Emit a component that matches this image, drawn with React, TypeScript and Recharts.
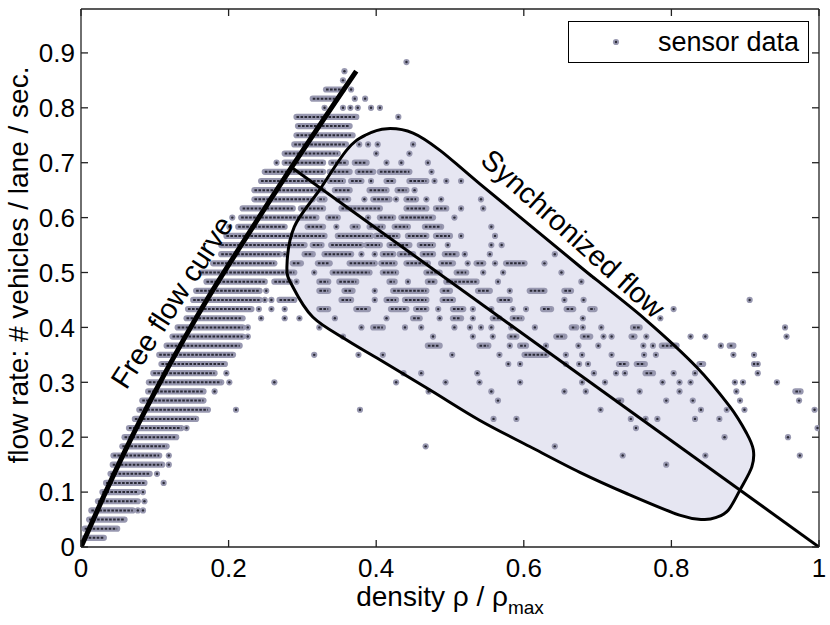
import React from "react";
import { ScatterChart, Scatter, XAxis, YAxis, Legend } from "recharts";

type Run = number | [number, number];

// sensor readings, one row per flow level (vehicles counted per minute).
// a pair is a run of neighbouring density readings, a number is a single reading
const sensorRows: Record<number, Run[]> = {
  1: [[0.005, 0.031]],
  2: [[0.005, 0.049]],
  3: [[0.011, 0.059]],
  4: [[0.014, 0.07], 0.077, 0.084],
  5: [[0.023, 0.077], 0.086],
  6: [[0.029, 0.077], 0.084],
  7: [[0.034, 0.086], 0.112],
  8: [[0.04, 0.093], 0.103],
  9: [[0.043, 0.11], 0.119, 0.793],
  10: [[0.044, 0.106], 0.119, 0.734, 0.846, 0.974],
  11: [[0.056, 0.116], 0.467, 0.642],
  12: [[0.059, 0.129], 0.872, 0.958],
  13: [[0.065, 0.136], 0.143, 0.752, 0.998],
  14: [[0.073, 0.156], 0.559, 0.59, 0.745, 0.765, 0.781, 0.832, 0.865],
  15: [[0.079, 0.172], 0.21, 0.378, 0.704, 0.84, 0.875, 0.899, 0.994],
  16: [[0.083, 0.166], 0.565, [0.728, 0.732], 0.793, 0.829, 0.893, 0.973],
  17: [[0.091, 0.166], 0.181, 0.471, 0.556, 0.655, 0.684, 0.757, 0.811, 0.888, [0.968, 0.975]],
  18: [[0.092, 0.19], 0.201, 0.262, 0.427, 0.494, 0.54, 0.595, 0.679, 0.71, 0.788, 0.811, 0.826, 0.886, 0.897, 0.943],
  19: [[0.098, 0.181], 0.197, 0.437, 0.461, 0.537, 0.695, 0.725, 0.737, [0.765, 0.775], 0.803, 0.832, 0.917],
  20: [[0.109, 0.195], 0.579, 0.595, 0.657, 0.675, 0.687, [0.729, 0.739], [0.753, 0.764], [0.838, 0.843], 0.912, 0.917],
  21: [[0.106, 0.206], 0.316, 0.376, 0.409, 0.503, 0.567, [0.601, 0.631], 0.657, 0.679, 0.719, 0.763, 0.779, 0.884, 0.912],
  22: [[0.116, 0.215], [0.47, 0.486], [0.54, 0.552], 0.581, [0.595, 0.603], 0.63, 0.674, 0.701, 0.762, 0.775, [0.787, 0.807], 0.867, [0.879, 0.884]],
  23: [[0.124, 0.219], 0.226, 0.355, 0.477, 0.531, 0.558, [0.581, 0.59], [0.644, 0.655], [0.68, 0.69], 0.708, 0.719, [0.746, 0.75], 0.766, 0.826, 0.846, 0.956],
  24: [[0.131, 0.219], 0.226, 0.323, 0.38, [0.396, 0.409], 0.439, 0.461, 0.506, 0.527, 0.542, 0.556, 0.583, 0.615, [0.665, 0.671], 0.68, 0.705, [0.748, 0.757], 0.954],
  25: [[0.143, 0.219], 0.244, 0.276, 0.296, 0.344, 0.414, [0.45, 0.459], 0.486, [0.504, 0.515], 0.531, [0.558, 0.567], [0.585, 0.597], 0.68, 0.785],
  26: [[0.145, 0.231], 0.241, 0.258, 0.276, [0.323, 0.335], [0.373, 0.389], [0.42, 0.441], [0.454, 0.468], 0.484, [0.504, 0.518], 0.531, 0.556, 0.585, 0.603, [0.626, 0.637], [0.658, 0.667], [0.69, 0.696], 0.803],
  27: [[0.152, 0.242], 0.249, 0.258, [0.269, 0.289], [0.353, 0.366], 0.398, [0.414, 0.427], [0.439, 0.468], [0.49, 0.504], [0.567, 0.581], 0.655, 0.681, 0.906],
  28: [[0.156, 0.242], 0.251, [0.323, 0.335], [0.357, 0.368], 0.398, [0.423, 0.468], [0.49, 0.5], [0.538, 0.554], 0.581, [0.608, 0.628], [0.655, 0.664]],
  29: [[0.17, 0.249], [0.262, 0.283], 0.292, [0.323, 0.335], [0.35, 0.373], [0.418, 0.425], 0.443, [0.47, 0.479], [0.495, 0.536], 0.565, 0.678],
  30: [[0.163, 0.289], 0.316, [0.341, 0.391], [0.409, 0.427], [0.468, 0.486], [0.509, 0.522], 0.545, 0.572, 0.651],
  31: [[0.179, 0.262], [0.287, 0.298], [0.321, 0.337], [0.364, 0.398], [0.407, 0.425], [0.441, 0.47], [0.488, 0.504], 0.524, [0.536, 0.545], 0.561, [0.576, 0.601], 0.628],
  32: [[0.19, 0.269], 0.276, [0.303, 0.314], [0.33, 0.366], 0.38, 0.398, [0.409, 0.423], [0.432, 0.45], [0.463, 0.477], [0.493, 0.509], 0.52, 0.554, 0.642],
  33: [[0.19, 0.303], [0.314, 0.326], [0.339, 0.38], [0.387, 0.405], [0.418, 0.445], [0.459, 0.477], 0.497, 0.556, 0.57],
  34: [[0.197, 0.33], [0.348, 0.393], [0.4, 0.429], [0.443, 0.468], [0.481, 0.5], 0.515, 0.561],
  35: [0.201, [0.213, 0.276], [0.307, 0.328], 0.346, [0.368, 0.375], [0.391, 0.409], [0.425, 0.443], [0.466, 0.488], 0.556],
  36: [0.205, [0.217, 0.319], [0.335, 0.348], 0.389, [0.405, 0.423], [0.434, 0.477], 0.506],
  37: [[0.219, 0.287], [0.298, 0.328], [0.353, 0.405], [0.441, 0.468], [0.481, 0.495], 0.515, 0.545],
  38: [[0.235, 0.314], [0.323, 0.33], [0.348, 0.362], 0.384, [0.396, 0.418], 0.427, [0.441, 0.454], 0.468, 0.488, 0.542],
  39: [[0.235, 0.328], [0.344, 0.364], [0.391, 0.414], [0.429, 0.441], 0.452],
  40: [[0.244, 0.328], [0.337, 0.355], [0.366, 0.38], 0.393, [0.414, 0.423], [0.445, 0.468], 0.479, 0.495, 0.515],
  41: [[0.249, 0.328], [0.337, 0.364], [0.375, 0.396], [0.405, 0.445], 0.475],
  42: [0.265, [0.276, 0.328], [0.339, 0.359], [0.371, 0.387], 0.414, 0.434, 0.47],
  43: [[0.276, 0.348], 0.4, 0.445],
  44: [[0.289, 0.359], 0.377, 0.389, 0.402, 0.45],
  45: [[0.292, 0.368]],
  46: [[0.294, 0.364]],
  47: [[0.292, 0.373], 0.43],
  48: [0.33, 0.355, 0.365, 0.375, 0.393, 0.405],
  49: [[0.314, 0.344], 0.371, 0.385],
  50: [[0.332, 0.355], 0.366],
  51: [0.355],
  52: [0.357],
  53: [0.441],
};

const freeFlowCurve = [
  { x: 0, y: 0 },
  { x: 0.03, y: 0.09 },
  { x: 0.06, y: 0.176 },
  { x: 0.1, y: 0.282 },
  { x: 0.14, y: 0.38 },
  { x: 0.17, y: 0.449 },
  { x: 0.22, y: 0.556 },
  { x: 0.287, y: 0.695 },
  { x: 0.373, y: 0.867 },
];

const syncLine = [
  { x: 0.287, y: 0.69 },
  { x: 1, y: 0 },
];

// outline of the synchronized flow region, clockwise from the top
const syncRegion = [
  { x: 0.415, y: 0.762 }, { x: 0.45, y: 0.754 }, { x: 0.486, y: 0.723 }, { x: 0.54, y: 0.662 },
  { x: 0.676, y: 0.511 }, { x: 0.699, y: 0.486 }, { x: 0.766, y: 0.413 }, { x: 0.834, y: 0.328 },
  { x: 0.879, y: 0.256 }, { x: 0.902, y: 0.207 }, { x: 0.911, y: 0.177 }, { x: 0.909, y: 0.146 },
  { x: 0.893, y: 0.104 }, { x: 0.877, y: 0.067 }, { x: 0.861, y: 0.054 }, { x: 0.843, y: 0.05 },
  { x: 0.811, y: 0.058 }, { x: 0.74, y: 0.097 }, { x: 0.676, y: 0.136 },
  { x: 0.608, y: 0.183 }, { x: 0.54, y: 0.231 }, { x: 0.473, y: 0.286 }, { x: 0.405, y: 0.341 },
  { x: 0.36, y: 0.377 }, { x: 0.314, y: 0.419 }, { x: 0.287, y: 0.474 }, { x: 0.279, y: 0.51 },
  { x: 0.289, y: 0.583 }, { x: 0.323, y: 0.65 }, { x: 0.36, y: 0.723 }, { x: 0.385, y: 0.75 },
];

const annotations = [
  { x: 0.123, y: 0.446, text: "Free flow curve" },
  { x: 0.667, y: 0.571, text: "Synchronized flow" },
];

const xTicks = [0, 0.2, 0.4, 0.6, 0.8, 1];
const yTicks = [0, 0.1, 0.2, 0.3, 0.4, 0.5, 0.6, 0.7, 0.8, 0.9];

const FONT = "'Liberation Sans', Arial, Helvetica, sans-serif";
const FRAME = "#222";
const HALO = "#9898b0";
const CORE = "#2a2a36";
const REGION_FILL = "#e6e6f2";
const labelAngle: Record<string, number> = { "Free flow curve": -57, "Synchronized flow": 42 };
const labelSize: Record<string, number> = { "Free flow curve": 29, "Synchronized flow": 29 };

const sensorPoints = Object.entries(sensorRows).flatMap(([count, runs]) => {
  const flow = Number(count) / 60;
  return runs.flatMap((r) => {
    const [a, b] = Array.isArray(r) ? r : [r, r];
    return [
      { x: a, y: flow },
      { x: b, y: flow },
    ];
  });
});

const noShape = () => <g />;

const Marker = ({ cx, cy }: { cx: number; cy: number }) => (
  <g>
    <circle cx={cx} cy={cy} r={3.1} fill={HALO} />
    <circle cx={cx} cy={cy} r={1.2} fill={CORE} />
  </g>
);

// points arrive as consecutive start/end pairs of one run
function SensorMarks(props: any) {
  const pts = props.points ?? [];
  const halos: React.ReactNode[] = [];
  const cores: React.ReactNode[] = [];
  for (let i = 0; i + 1 < pts.length; i += 2) {
    const a = pts[i];
    const b = pts[i + 1];
    if (Math.abs(b.x - a.x) < 0.5) {
      halos.push(<circle key={i} cx={a.x} cy={a.y} r={3.1} fill={HALO} />);
      cores.push(<circle key={i} cx={a.x} cy={a.y} r={1.2} fill={CORE} />);
    } else {
      halos.push(
        <line key={i} x1={a.x} y1={a.y} x2={b.x} y2={b.y} stroke={HALO} strokeWidth={6.2} strokeLinecap="round" />
      );
      cores.push(
        <line
          key={i}
          x1={a.x}
          y1={a.y}
          x2={b.x}
          y2={b.y}
          stroke={CORE}
          strokeWidth={2}
          strokeDasharray="2.6 1.4"
        />
      );
    }
  }
  return (
    <g>
      {halos}
      {cores}
    </g>
  );
}

function closedSmoothPath(pts: { x: number; y: number }[]) {
  const n = pts.length;
  if (!n) return "";
  let d = `M${pts[0].x},${pts[0].y}`;
  for (let i = 0; i < n; i++) {
    const p0 = pts[(i - 1 + n) % n];
    const p1 = pts[i];
    const p2 = pts[(i + 1) % n];
    const p3 = pts[(i + 2) % n];
    const c1x = p1.x + (p2.x - p0.x) / 6;
    const c1y = p1.y + (p2.y - p0.y) / 6;
    const c2x = p2.x - (p3.x - p1.x) / 6;
    const c2y = p2.y - (p3.y - p1.y) / 6;
    d += ` C${c1x},${c1y} ${c2x},${c2y} ${p2.x},${p2.y}`;
  }
  return d + "Z";
}

const RegionFill = (props: any) => <path d={closedSmoothPath(props.points ?? [])} fill={REGION_FILL} stroke="none" />;
const RegionEdge = (props: any) => (
  <path d={closedSmoothPath(props.points ?? [])} fill="none" stroke="#000" strokeWidth={3} strokeLinejoin="round" />
);

const AnnotationText = (p: any) => {
  const text = p.payload?.text ?? "";
  return (
    <text
      x={p.cx}
      y={p.cy}
      dy="0.35em"
      textAnchor="middle"
      transform={`rotate(${labelAngle[text] ?? 0} ${p.cx} ${p.cy})`}
      fontFamily={FONT}
      fontSize={labelSize[text] ?? 29}
      fill="#000"
    >
      {text}
    </text>
  );
};

const fmt = (v: number) => String(v);

const BottomTick = ({ x, y, payload }: any) => (
  <g>
    <line x1={x} y1={y - 10} x2={x} y2={y - 17} stroke={FRAME} strokeWidth={1.3} />
    <text x={x} y={y} dy="0.78em" textAnchor="middle" fontFamily={FONT} fontSize={26} fill="#000">
      {fmt(payload.value)}
    </text>
  </g>
);

const LeftTick = ({ x, y, payload }: any) => (
  <g>
    <line x1={x + 6} y1={y} x2={x + 13} y2={y} stroke={FRAME} strokeWidth={1.3} />
    <text x={x} y={y} dy="0.36em" textAnchor="end" fontFamily={FONT} fontSize={26} fill="#000">
      {fmt(payload.value)}
    </text>
  </g>
);

const TopTick = ({ x, y }: any) => <line x1={x} y1={y} x2={x} y2={y + 7} stroke={FRAME} strokeWidth={1.3} />;
const RightTick = ({ x, y }: any) => <line x1={x} y1={y} x2={x - 7} y2={y} stroke={FRAME} strokeWidth={1.3} />;

const XTitle = (p: any) => {
  const vb = p.viewBox ?? { x: 81, y: 547, width: 738, height: 78 };
  return (
    <text x={vb.x + vb.width / 2} y={vb.y + 59} textAnchor="middle" fontFamily={FONT} fontSize={28} fill="#000">
      density ρ / ρ
      <tspan fontSize={19} dy={8}>
        max
      </tspan>
    </text>
  );
};

const YTitle = () => (
  <text x={28} y={265} textAnchor="middle" transform="rotate(-90 28 265)" fontFamily={FONT} fontSize={28} fill="#000">
    flow rate: # vehicles / lane / sec.
  </text>
);

const LegendBox = () => (
  <div
    style={{
      boxSizing: "border-box",
      width: 241,
      height: 42,
      border: "1px solid #000",
      background: "#fff",
      position: "relative",
      fontFamily: FONT,
      fontSize: 27,
      color: "#000",
    }}
  >
    <svg width={12} height={12} style={{ position: "absolute", left: 41, top: 14 }}>
      <Marker cx={6} cy={6} />
    </svg>
    <span style={{ position: "absolute", left: 89, top: 3, lineHeight: "34px", whiteSpace: "nowrap" }}>sensor data</span>
  </div>
);

export default function App() {
  const frame = { stroke: FRAME, strokeWidth: 1.3 };
  return (
    <div style={{ position: "absolute", left: 0, top: 0, width: 830, height: 625, background: "#fff" }}>
      <ScatterChart width={830} height={625} margin={{ top: 8, right: 10, bottom: 0, left: 0 }}>
        <XAxis
          type="number"
          dataKey="x"
          domain={[0, 1]}
          ticks={xTicks}
          interval={0}
          height={78}
          tickSize={0}
          tickMargin={10}
          tickLine={false}
          axisLine={frame}
          tick={BottomTick}
          label={XTitle}
          allowDataOverflow
        />
        <XAxis
          xAxisId="top"
          orientation="top"
          type="number"
          dataKey="x"
          domain={[0, 1]}
          ticks={xTicks}
          interval={0}
          height={1}
          tickSize={0}
          tickMargin={0}
          tickLine={false}
          axisLine={frame}
          tick={TopTick}
          allowDataOverflow
        />
        <YAxis
          type="number"
          dataKey="y"
          domain={[0, 0.98]}
          ticks={yTicks}
          interval={0}
          width={81}
          tickSize={0}
          tickMargin={6}
          tickLine={false}
          axisLine={frame}
          tick={LeftTick}
          label={YTitle}
          allowDataOverflow
        />
        <YAxis
          yAxisId="right"
          orientation="right"
          type="number"
          dataKey="y"
          domain={[0, 0.98]}
          ticks={yTicks}
          interval={0}
          width={1}
          tickSize={0}
          tickMargin={0}
          tickLine={false}
          axisLine={frame}
          tick={RightTick}
          allowDataOverflow
        />
        <Legend
          layout="vertical"
          align="center"
          verticalAlign="middle"
          wrapperStyle={{ left: 568, top: 21, width: 241, height: 42 }}
          content={LegendBox}
        />
        <Scatter data={syncRegion} line={RegionFill} shape={noShape} legendType="none" isAnimationActive={false} />
        <Scatter name="sensor data" data={sensorPoints} line={SensorMarks} shape={noShape} isAnimationActive={false} />
        <Scatter data={syncRegion} line={RegionEdge} shape={noShape} legendType="none" isAnimationActive={false} />
        <Scatter
          data={syncLine}
          line={{ stroke: "#000", strokeWidth: 3 }}
          shape={noShape}
          legendType="none"
          isAnimationActive={false}
        />
        <Scatter
          data={freeFlowCurve}
          line={{ stroke: "#000", strokeWidth: 5 }}
          lineJointType="monotoneX"
          shape={noShape}
          legendType="none"
          isAnimationActive={false}
        />
        <Scatter data={annotations} shape={AnnotationText} legendType="none" isAnimationActive={false} />
      </ScatterChart>
    </div>
  );
}
